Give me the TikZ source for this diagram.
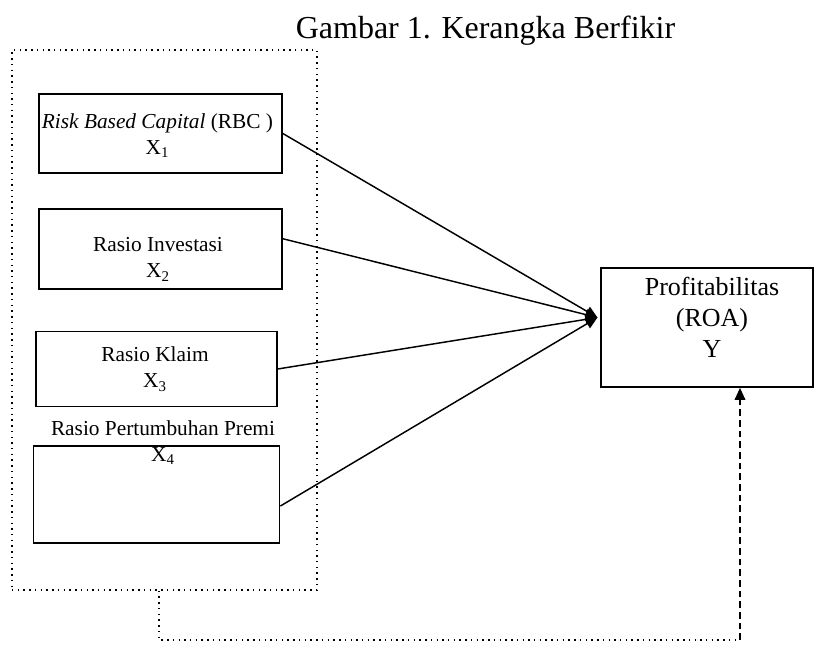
\documentclass[tikz,border=0pt]{standalone}
\usepackage{fontspec}
\setmainfont{Liberation Serif}
\usetikzlibrary{arrows.meta,positioning}

\begin{document}
\begin{tikzpicture}[
  x=0.75pt, y=-0.75pt,
  box/.style={draw, line width=1.3pt, inner sep=0pt},
  grp/.style={draw, line width=1.1pt, dash pattern=on 1.1pt off 3.2pt, inner sep=0pt},
  lab/.style={align=center, font=\fontsize{16}{19.5}\selectfont},
  big/.style={align=center, font=\fontsize{19.5}{23}\selectfont},
  arr/.style={-{Triangle[length=9pt,width=8pt]}, line width=1.1pt}
]
\useasboundingbox (0,0) rectangle (815,644);

\node[font=\fontsize{24}{28}\selectfont, anchor=base] (title) at (485.5,38) {Gambar 1. Kerangka Berfikir};

\node[grp, minimum width=228.75pt, minimum height=405pt] (frame) at (164.5,320) {};

\node[box, minimum width=182.25pt, minimum height=59.25pt] (b1) at (160.5,133.5) {};
\node[box, minimum width=182.25pt, minimum height=60pt, below=25.5pt of b1] (b2) {};
\node[box, minimum width=180.75pt, minimum height=56.25pt, below=30.75pt of b2, xshift=-3pt] (b3) {};
\node[box, minimum width=184.5pt, minimum height=72.75pt, below=28.5pt of b3] (b4) {};

\node[lab] (t1) at (157.5,135.5) {\textit{Risk Based Capital} (RBC )\\X\textsubscript{1}};
\node[lab] (t2) at (158,259.5) {Rasio Investasi\\X\textsubscript{2}};
\node[lab] (t3) at (155,369) {Rasio Klaim\\X\textsubscript{3}};
\node[lab] (t4) at (163,442.5) {Rasio Pertumbuhan Premi\\X\textsubscript{4}};

\node[box, minimum width=159pt, minimum height=89.25pt] (Y) at (707,327.5) {};
\node[big] (ty) at (712,317.5) {Profitabilitas\\(ROA)\\Y};

% all four ratios point at the same spot on Y
\coordinate (hub) at ([shift={(-2pt,7.5pt)}]Y.west);
\foreach \b/\s in {b1/0pt, b2/7.5pt, b3/0pt, b4/-8.5pt}
  \draw[arr] ([yshift=\s]\b.east) -- (hub);

% joint effect of the group
\coordinate (bend) at (159,640);
\coordinate (turn) at (740,640);
\draw[line width=1.1pt, dash pattern=on 1.1pt off 3.2pt] (frame.south -| bend) -- (bend) -- (turn);
\draw[arr, line width=1pt, dash pattern=on 5pt off 3pt] (turn) -- (turn |- Y.south);
\end{tikzpicture}
\end{document}
